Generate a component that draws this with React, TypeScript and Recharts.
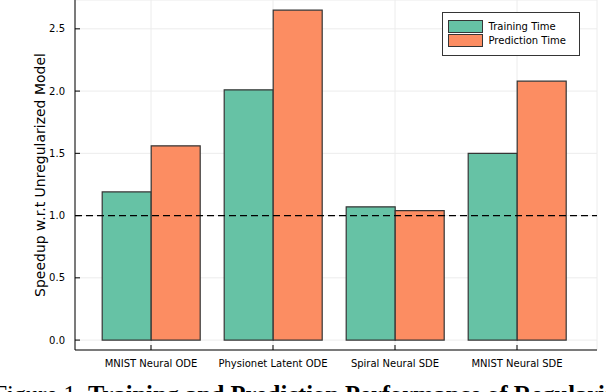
import React from "react"
import { BarChart, Bar, XAxis, YAxis, CartesianGrid, ReferenceLine } from "recharts"

const categories = ["MNIST Neural ODE", "Physionet Latent ODE", "Spiral Neural SDE", "MNIST Neural SDE"]
const trainingTime = [1.19, 2.01, 1.07, 1.5]
const predictionTime = [1.56, 2.65, 1.04, 2.08]
const yTicks = [0, 0.5, 1, 1.5, 2, 2.5]
const seriesNames = ["Training Time", "Prediction Time"]

const GREEN = "#66c2a5"
const ORANGE = "#fc8d62"
const EDGE = "#353535"
const FONT = "'DejaVu Sans', sans-serif"

const data = categories.map((name, i) => ({
  name,
  training: trainingTime[i],
  prediction: predictionTime[i],
}))

// y tick: label left of the axis, short tick pointing into the plot
const YTick = ({ x, y, payload }: any) => (
  <g>
    <line x1={x + 10} x2={x + 15} y1={y} y2={y} stroke="#000" strokeWidth={1} />
    <text x={x} y={y} dy="0.355em" textAnchor="end" fontSize={10} fontFamily={FONT} fill="#000">
      {payload.value.toFixed(1)}
    </text>
  </g>
)

const XTick = ({ x, y, payload }: any) => (
  <g>
    <line x1={x} x2={x} y1={y - 10} y2={y - 15} stroke="#000" strokeWidth={1} />
    <text x={x} y={y} dy="0.71em" textAnchor="middle" fontSize={10} fontFamily={FONT} fill="#000">
      {payload.value}
    </text>
  </g>
)

function LegendBox() {
  const colors = [GREEN, ORANGE]
  return (
    <div
      style={{
        position: "absolute",
        left: 441.5,
        top: 11.5,
        width: 136,
        height: 42,
        border: `1px solid ${EDGE}`,
        background: "#fff",
        fontFamily: FONT,
        fontSize: 10,
      }}
    >
      {seriesNames.map((s, i) => (
        <div key={s} style={{ position: "absolute", left: 5, top: 8 + i * 14, height: 12, display: "flex", alignItems: "center" }}>
          <div style={{ width: 33, height: 11, background: colors[i], border: `1px solid ${EDGE}` }} />
          <span style={{ marginLeft: 6, color: "#000", whiteSpace: "nowrap" }}>{s}</span>
        </div>
      ))}
    </div>
  )
}

export default function App() {
  return (
    <div style={{ position: "absolute", left: 0, top: 0, width: 606, height: 392, overflow: "hidden", background: "#fff" }}>
      <BarChart
        width={606}
        height={392}
        data={data}
        margin={{ top: 0, right: 9, bottom: 0, left: 0 }}
        barCategoryGap="10%"
        barGap={0}
      >
        <CartesianGrid stroke="#ececec" strokeWidth={1} />
        <XAxis
          dataKey="name"
          height={42}
          padding={{ left: 15, right: 19 }}
          axisLine={{ stroke: "#000", strokeWidth: 1 }}
          tickLine={false}
          tickSize={0}
          tickMargin={10}
          tick={XTick}
          interval={0}
        />
        <YAxis
          type="number"
          width={75}
          domain={[-0.0796, 2.7316]}
          ticks={yTicks}
          axisLine={{ stroke: "#000", strokeWidth: 1 }}
          tickLine={false}
          tickSize={0}
          tickMargin={10}
          tick={YTick}
          allowDataOverflow
        />
        <Bar dataKey="training" name={seriesNames[0]} fill={GREEN} stroke={EDGE} strokeWidth={1.2} isAnimationActive={false} />
        <Bar dataKey="prediction" name={seriesNames[1]} fill={ORANGE} stroke={EDGE} strokeWidth={1.2} isAnimationActive={false} />
        <ReferenceLine y={1} stroke="#000" strokeWidth={1.2} strokeDasharray="7 4" />
      </BarChart>
      <svg style={{ position: "absolute", left: 0, top: 0 }} width={80} height={392}>
        <text
          x={45}
          y={175}
          transform="rotate(-90 45 175)"
          textAnchor="middle"
          fontSize={14}
          fontFamily={FONT}
          fill="#000"
        >
          Speedup w.r.t Unregularized Model
        </text>
      </svg>
      <LegendBox />
      <div
        style={{
          position: "absolute",
          left: -6.6,
          top: 383,
          fontFamily: "'Liberation Serif', serif",
          fontSize: 24.5,
          lineHeight: 1,
          whiteSpace: "nowrap",
          color: "#000",
        }}
      >
        Figure 1. <b>Training and Prediction Performance of Regularized Neural ODEs</b>
      </div>
    </div>
  )
}
